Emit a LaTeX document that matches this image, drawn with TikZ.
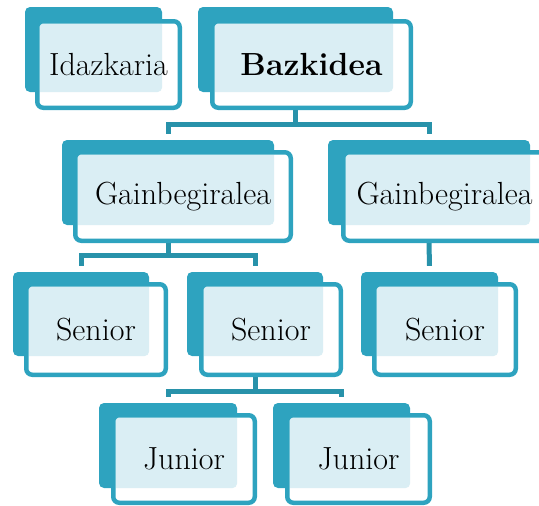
\documentclass[tikz,border=0pt]{standalone}
\usepackage{fontspec}
\setmainfont{Latin Modern Roman}
\usetikzlibrary{backgrounds}
\definecolor{boxteal}{RGB}{46,163,191}
\definecolor{lineteal}{RGB}{40,146,170}
\definecolor{patblue}{RGB}{218,238,244}
\tikzset{
  backbox/.style 2 args={rectangle, fill=boxteal, rounded corners=5pt, inner sep=0pt,
    minimum width=#1pt, minimum height=#2pt},
  frontbox/.style n args={3}{rectangle, fill=white, draw=boxteal, line width=4.5pt,
    rounded corners=6pt, inner sep=0pt, minimum width=#1pt, minimum height=#2pt,
    font=\fontsize{32}{38}\selectfont,
    path picture={
      \begin{scope}
        \clip[rounded corners=3.75pt] ([xshift=2.25pt,yshift=2.25pt]path picture bounding box.south west)
          rectangle ([xshift=-2.25pt,yshift=-2.25pt]path picture bounding box.north east);
        \fill[patblue, rounded corners=5pt] (#3.south west) rectangle (#3.north east);
      \end{scope}}},
  conn/.style={draw=lineteal, line width=5pt}
}
\begin{document}
\begin{tikzpicture}[x=1pt, y=-1pt]
\useasboundingbox (0,0) rectangle (539,506);

% Idazkaria
\node[backbox={137}{85}] (Ib) at (93.5,49.5) {};
\node[frontbox={142.5}{86.5}{Ib}] (I) at (108.5,64.5) {Idazkaria};
% Bazkidea
\node[backbox={195}{85}] (Bb) at (295.5,49.5) {};
\node[frontbox={198.5}{86.5}{Bb}] (B) at (311.5,64.5) {\textbf{Bazkidea}};
% Gainbegiralea 1
\node[backbox={212}{85}] (G1b) at (168,182.5) {};
\node[frontbox={215.5}{88.5}{G1b}] (G1) at (183,196.5) {Gainbegiralea};
% Gainbegiralea 2
\node[backbox={202}{85}] (G2b) at (429,182.5) {};
\node[frontbox={202.5}{88.5}{G2b}] (G2) at (444.5,196.5) {Gainbegiralea};
% Senior row
\node[backbox={136}{84}] (S1b) at (81,314) {};
\node[frontbox={139.5}{90.5}{S1b}] (S1) at (96,329.5) {Senior};
\node[backbox={136}{84}] (S2b) at (255,314) {};
\node[frontbox={139.5}{90.5}{S2b}] (S2) at (271,329.5) {Senior};
\node[backbox={137}{84}] (S3b) at (429.5,314) {};
\node[frontbox={141.5}{90.5}{S3b}] (S3) at (445,329.5) {Senior};
% Junior row
\node[backbox={138}{85}] (J1b) at (168,445.5) {};
\node[frontbox={141.5}{87.5}{J1b}] (J1) at (184,459) {Junior};
\node[backbox={137}{85}] (J2b) at (341.5,445.5) {};
\node[frontbox={142.5}{87.5}{J2b}] (J2) at (358.5,459) {Junior};

\begin{scope}[on background layer]
  \coordinate (hB) at (295.5,124);
  \draw[conn] (B.south -| Bb.center) -- (hB);
  \draw[conn] ([yshift=6pt]G1b.north) |- (hB) -| ([yshift=6pt]G2b.north);

  \coordinate (hG) at (168,255);
  \draw[conn] (G1.south -| G1b.center) -- (hG);
  \draw[conn] ([yshift=6pt]S1b.north) |- (hG) -| ([yshift=6pt]S2b.north);

  \draw[conn] (G2.south -| G2b.center) -- ([yshift=6pt]S3b.north);

  \coordinate (hS) at (255,391);
  \draw[conn] (S2.south -| S2b.center) -- (hS);
  \draw[conn] ([yshift=6pt]J1b.north) |- (hS) -| ([yshift=6pt]J2b.north);
\end{scope}
\end{tikzpicture}
\end{document}
